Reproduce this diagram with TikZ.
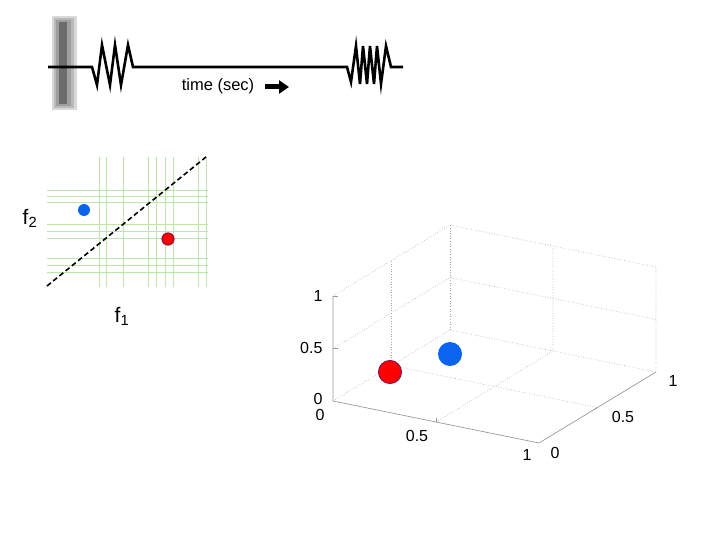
\documentclass[tikz,border=0pt]{standalone}
\usepackage{fontspec}
\setmainfont{Liberation Sans}
\usetikzlibrary{arrows.meta}
\definecolor{gridgreen}{RGB}{190,230,170}
\definecolor{dotblue}{RGB}{10,100,240}
\begin{document}
\begin{tikzpicture}[x=1pt,y=-1pt,
  wave/.style={line width=2.6pt,black,line join=miter},
  gridln/.style={gridgreen,line width=0.7pt},
  ax3/.style={gray!80,line width=0.7pt},
  dot3/.style={gray!70,line width=0.6pt,dotted},
  tick/.style={font=\fontsize{16}{16}\selectfont},
  flab/.style={font=\fontsize{21}{21}\selectfont}]
\useasboundingbox (0,0) rectangle (720,540);
% ---- top signal ----
\fill[gray!30] (52,16) rectangle (77,110);
\fill[gray!55] (54,18) rectangle (74,108);
\fill[gray!75] (56,20) rectangle (71,106);
\fill[gray!85!black] (59,22) rectangle (67,104);
\draw[wave] (48,67) -- (92,67) -- (97,85) -- (102,45) -- (110,85) -- (115,45) -- (121,85) -- (128,45) -- (133,67)
  -- (347,67) -- (351,82) -- (356,46) -- (360,84) -- (363,46) -- (367,84) -- (370,46) -- (374,84) -- (377,46) -- (381,84) -- (386,46) -- (391,67) -- (403,67);
\node[font=\fontsize{16.5}{16.5}\selectfont] (time) at (218,86) {time (sec)};
\coordinate (ta) at (265,87);
\coordinate (tb) at (289,87);
\draw[line width=5pt,-{Triangle[length=10pt,width=13pt]}] (ta) -- (tb);
% ---- scatter ----
\foreach \xx in {99.3,106.7,123.3,148.3,156.7,165,173.3,198.3,206.7}
  \draw[gridln] (\xx,157) -- (\xx,287);
\foreach \yy in {190,196.7,202,224,231,238,258,265,272}
  \draw[gridln] (47,\yy) -- (208,\yy);
\coordinate (da) at (47,286);
\coordinate (db) at (206,157);
\draw[line width=1.6pt,dash pattern=on 5pt off 3pt] (da) -- (db);
\node[circle,fill=dotblue,minimum size=12pt,inner sep=0pt] (b2) at (84,210) {};
\node[circle,fill=red,draw={rgb,255:red,150;green,20;blue,60},line width=1.2pt,minimum size=12pt,inner sep=0pt] (r2) at (168,239) {};
\node[flab] (f2) at (30,218) {f\textsubscript{2}};
\node[flab] (f1) at (122,316) {f\textsubscript{1}};
% ---- 3D plot ----
\coordinate (O) at (333,401);
\coordinate (X) at (539,443);
\coordinate (Y) at (450,330);
\coordinate (XY) at (656,372);
\coordinate (Ztop) at (333,296);
\coordinate (Ytop) at (450,225);
\coordinate (XYtop) at (656,267);
% dotted grid on back walls and floor
\draw[dot3] (O) -- (Y) -- (XY);
\draw[dot3] (Ztop) -- (Ytop) -- (XYtop) -- (XY);
\draw[dot3] (Y) -- (Ytop);
\draw[dot3] (333,348.5) -- (450,277.5) -- (656,319.5);
\draw[dot3] (391.5,365.5) -- (391.5,260.5);
\draw[dot3] (391.5,365.5) -- (597.5,407.5);
\draw[dot3] (436,422) -- (553,351) -- (553,246);
% solid axes
\draw[ax3] (Ztop) -- (O) -- (X) -- (XY);
\draw[ax3] (333,348.5) -- (338,348.5);
\draw[ax3] (333,296) -- (338,296);
\draw[ax3] (436,422) -- (436,418);
\draw[ax3] (597.5,407.5) -- (593.5,410);
\node[tick,anchor=east] (z0) at (326,399) {0};
\node[tick,anchor=east] (z05) at (326,348) {0.5};
\node[tick,anchor=east] (z1) at (326,296) {1};
\node[tick] (x0) at (320,415) {0};
\node[tick] (x05) at (417,436) {0.5};
\node[tick] (x1) at (527,455) {1};
\node[tick] (y0) at (555,453) {0};
\node[tick] (y05) at (623,417) {0.5};
\node[tick] (y1) at (673,381) {1};
\node[circle,fill=dotblue,minimum size=24pt,inner sep=0pt] (b3) at (450,354) {};
\node[circle,fill=red,draw={rgb,255:red,130;green,20;blue,80},line width=1pt,minimum size=23pt,inner sep=0pt] (r3) at (390,372) {};
\end{tikzpicture}
\end{document}
